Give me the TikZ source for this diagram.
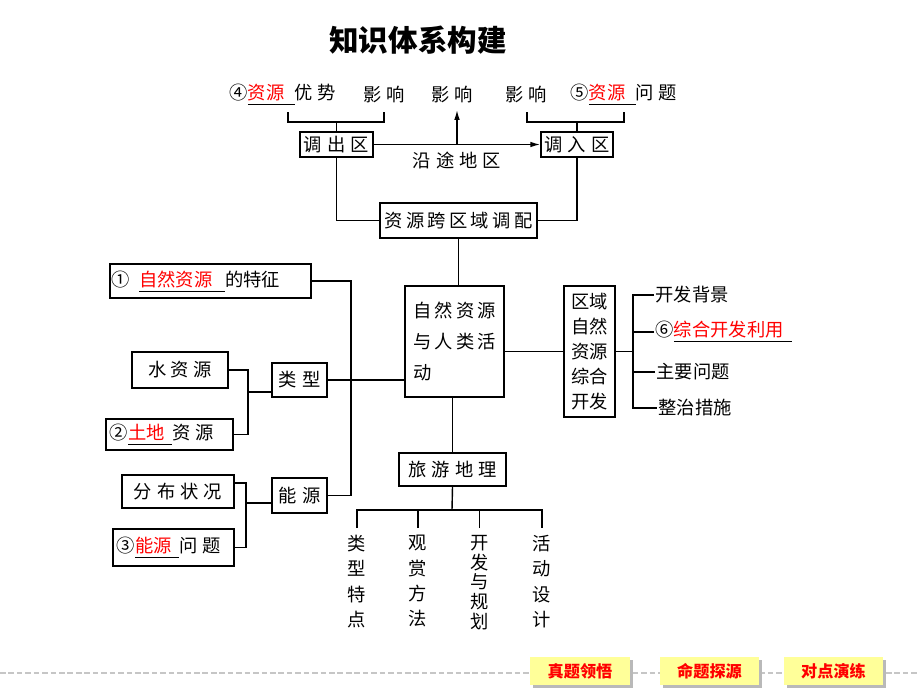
\documentclass[tikz,border=0pt]{standalone}
\usepackage{fontspec}
\setmainfont{Noto Sans CJK SC}
\usetikzlibrary{positioning}
\usetikzlibrary{arrows.meta}
\usetikzlibrary{shadows}
\definecolor{navyellow}{RGB}{255,255,153}
\newsavebox\glbox
\newcommand\gp[1][0.28em]{\hspace{#1}}
\newcommand\gapline[2][0.5em]{\sbox\glbox{\textcolor{red}{#2}\hspace{#1}}\rlap{\rule[-0.3em]{\wd\glbox}{0.7pt}}\usebox\glbox}
\tikzset{
  box/.style={draw,line width=1.1pt,inner sep=0pt,font=\fontsize{13}{13}\selectfont},
  word/.style={inner sep=1pt,font=\fontsize{13}{13}\selectfont},
  link/.style={line width=1pt},
  navline/.style={gray!45,line width=0.8pt,dash pattern=on 4pt off 2pt},
  navbox/.style={fill=navyellow,text=red,minimum width=2.5cm,minimum height=0.7cm,
    font=\bfseries\fontsize{11.5}{11.5}\selectfont,
    drop shadow={shadow xshift=2pt,shadow yshift=-2pt,fill=gray!55,opacity=1}}
}
\begin{document}
\begin{tikzpicture}[x=0.025cm,y=-0.025cm]
  \useasboundingbox (0,0) rectangle (920,690);

  \node[font=\bfseries\fontsize{21}{21}\selectfont] (ttl) at (418,40) {知识体系构建};

  % top row
  \node[word,anchor=west] (yout) at (228,95) {④\gapline[0.55em]{资源}优\gp 势};
  \node[word] (yx1) at (384,95) {影\gp 响};
  \node[word] (yx2) at (452,95) {影\gp 响};
  \node[word] (yx3) at (526,95) {影\gp 响};
  \node[word,anchor=west] (yin) at (569,95) {⑤\gapline[0.55em]{资源}问\gp 题};

  \node[box,minimum width=1.825cm,minimum height=0.625cm] (chu) at (336.5,144.5) {调\gp 出\gp 区};
  \node[box,minimum width=1.8cm,minimum height=0.625cm] (ru) at (577,144.5) {调\gp 入\gp 区};
  \node[word] (yantu) at (457,160) {沿\gp 途\gp 地\gp 区};
  \node[box,minimum width=3.925cm,minimum height=0.875cm] (kua) at (458.5,220.5)
    {资\gp[0.18em]源\gp[0.18em]跨\gp[0.18em]区\gp[0.18em]域\gp[0.18em]调\gp[0.18em]配};

  \coordinate (la) at (288,112);
  \coordinate (lb) at (384,112);
  \coordinate (lm) at (336.5,122);
  \coordinate (ra) at (527,112);
  \coordinate (rb) at (624,112);
  \coordinate (rm) at (577,122);
  \coordinate (upt) at (457,110);
  \draw[link] (la) |- (lm) -| (lb);
  \draw[link] (lm) -- (chu.north);
  \draw[link] (ra) |- (rm) -| (rb);
  \draw[link] (rm) -- (ru.north);
  \draw[link,-{Latex[length=7pt,width=4pt]}] (chu) -- (ru);
  \draw[link,-{Latex[length=7pt,width=4pt]}] (chu.east -| upt) -- (upt);
  \draw[link] (chu.south) |- (kua.west);
  \draw[link] (ru.south) |- (kua.east);

  % centre
  \node[box,minimum width=2.475cm,minimum height=2.775cm,align=left,
    font=\fontsize{13}{22}\selectfont] (main) at (454.5,341.5)
    {自\gp[0.18em]然\gp[0.18em]资\gp[0.18em]源\\与\gp[0.18em]人\gp[0.18em]类\gp[0.18em]活\\动};
  \draw[link] (kua.south) -- (kua.south |- main.north);

  % left
  \node[box,inner xsep=0.05cm,text width=4.925cm,align=left,minimum height=0.85cm] (tz) at (210.5,281)
    {①\hspace{0.5em}\gapline[0.7em]{自然资源}的特征};
  \node[box,minimum width=2.4cm,minimum height=0.9cm] (shui) at (180,370) {水\gp[0.22em]资\gp[0.22em]源};
  \node[box,inner xsep=0.1cm,text width=2.975cm,align=left,minimum height=0.775cm] (tudi) at (169.5,434.5)
    {②\gapline[0.4em]{土地}资\gp 源};
  \node[box,minimum width=1.375cm,minimum height=0.85cm] (lx) at (299.5,380) {类\gp 型};
  \node[box,minimum width=2.8cm,minimum height=0.825cm] (fb) at (178,491.5) {分\gp 布\gp 状\gp 况};
  \node[box,inner xsep=0.1cm,text width=2.825cm,align=left,minimum height=0.925cm] (nywt) at (173.5,547.5)
    {③\gapline[0.4em]{能源}问\gp 题};
  \node[box,minimum width=1.375cm,minimum height=0.875cm] (neng) at (299.5,495.5) {能\gp 源};

  \coordinate (lsp) at (351,0);
  \coordinate (wb) at (248,392);
  \coordinate (eb) at (246,503);
  \draw[link] (tz.east) -| (lsp |- neng.east) -- (neng.east);
  \draw[link] (lx.east) -- (lx.east -| main.west);
  \draw[link] (shui.east) -| (wb) |- (tudi.east);
  \draw[link] (wb) -- (wb -| lx.west);
  \draw[link] ([yshift=6pt]fb.east) -| (eb) |- (nywt.east);
  \draw[link] (eb) -- (eb -| neng.west);

  % right
  \node[box,minimum width=1.275cm,minimum height=3.275cm,align=center,
    font=\fontsize{13}{17.7}\selectfont] (quyu) at (589.5,351.5) {区域\\自然\\资源\\综合\\开发};
  \node[word,anchor=west] (bj) at (654,295) {开发背景};
  \node[word,anchor=west] (zh) at (654,332) {⑥\gapline[0.45em]{综合开发利用}};
  \node[word,anchor=west] (wt) at (655,372) {主要问题};
  \node[word,anchor=west] (zz) at (657,408) {整治措施};
  \coordinate (qs) at (633,351);
  \draw[link] (main.east |- quyu.west) -- (quyu.west);
  \draw[link] (quyu.east) -- (quyu.east -| qs);
  \draw[link] (bj.west) -| (qs) |- (zz.west);
  \draw[link] (zh.west) -- (zh.west -| qs);
  \draw[link] (wt.west) -- (wt.west -| qs);

  % bottom
  \node[box,minimum width=2.675cm,minimum height=0.825cm] (lv) at (452.5,469.5) {旅\gp 游\gp 地\gp 理};
  \draw[link] (lv.north |- main.south) -- (lv.north);
  \node[word,align=center,anchor=north,inner ysep=5pt,font=\fontsize{13}{18}\selectfont] (tl1) at (357,528) {类\\型\\特\\点};
  \node[word,align=center,anchor=north,inner ysep=5pt,font=\fontsize{13}{18}\selectfont] (tl2) at (418,528) {观\\赏\\方\\法};
  \node[word,align=center,anchor=north,inner ysep=5pt,font=\fontsize{13}{14}\selectfont] (tl3) at (479.5,528) {开\\发\\与\\规\\划};
  \node[word,align=center,anchor=north,inner ysep=5pt,font=\fontsize{13}{18}\selectfont] (tl4) at (542,528) {活\\动\\设\\计};
  \coordinate (tb) at (452,510);
  \draw[link] (lv.south) -- (tb);
  \draw[link] (tl1.north) |- (tb) -| (tl4.north);
  \draw[link] (tl2.north) -- (tl2.north |- tb);
  \draw[link] (tl3.north) -- (tl3.north |- tb);

  % navigation
  \coordinate (navl) at (0,673);
  \coordinate (navr) at (920,673);
  \draw[navline] (navl) -- (navr);
  \node[navbox] (zt) at (580,671) {真题领悟};
  \node[navbox,minimum width=2.475cm] (mt) at (709.5,671) {命题探源};
  \node[navbox,minimum width=2.475cm] (dd) at (833.5,671) {对点演练};
\end{tikzpicture}
\end{document}
